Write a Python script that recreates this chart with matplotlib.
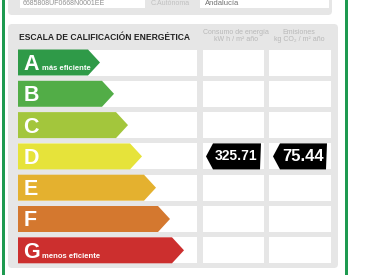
import matplotlib.pyplot as plt
from matplotlib.patches import Polygon, Rectangle, FancyBboxPatch

plt.rcParams['font.family'] = ['Liberation Sans', 'DejaVu Sans']

# datos del certificado
clases = ['A', 'B', 'C', 'D', 'E', 'F', 'G']
colores = ['#2f9a48', '#52ad47', '#a3c63c', '#e6e33a', '#e4b12f', '#d4782f', '#cc2f2e']
etiquetas = {'A': 'más eficiente', 'G': 'menos eficiente'}
consumo = 325.71
emisiones = 75.44
clase_consumo = 'D'
clase_emisiones = 'D'
ref_catastral = '6685808UF0668N0001EE'
comunidad = 'Andalucía'

fig = plt.figure(figsize=(3.66, 2.75), dpi=100)
ax = fig.add_axes([0, 0, 1, 1])
ax.set_xlim(0, 366)
ax.set_ylim(275, 0)
ax.axis('off')

gris = '#e6e6e6'

# borde verde
ax.add_patch(Rectangle((2, -5), 2.5, 290, color='#1e9a50', lw=0))
ax.add_patch(Rectangle((345, -5), 2.5, 290, color='#1e9a50', lw=0))

# panel superior
ax.add_patch(FancyBboxPatch((8, -10), 324, 25, boxstyle='round,pad=0,rounding_size=4', fc=gris, ec='none'))
ax.add_patch(Rectangle((20, -2), 125, 10, fc='white', ec='none'))
ax.add_patch(Rectangle((200, -2), 129, 10, fc='white', ec='none'))
ax.text(23, 3.5, ref_catastral, fontsize=5, color='#909090', va='center')
ax.text(151, 3.5, 'C.Autónoma', fontsize=5, color='#c0c0c0', va='center')
ax.text(205, 3.5, comunidad, fontsize=5.5, color='#707070', va='center')

# panel principal
ax.add_patch(FancyBboxPatch((8, 24), 330, 244, boxstyle='round,pad=0,rounding_size=4', fc=gris, ec='none'))
ax.text(19, 37, 'ESCALA DE CALIFICACIÓN ENERGÉTICA', fontsize=6.15, fontweight='bold',
        color='#222222', va='center')
ax.text(236, 36, 'Consumo de energía\nkW h / m² año', fontsize=5, color='#b8b8b8',
        ha='center', va='center', linespacing=1.05)
ax.text(299, 36, 'Emisiones\nkg CO₂ / m² año', fontsize=5, color='#b8b8b8',
        ha='center', va='center', linespacing=1.05)

y0, paso, h = 49.5, 31.3, 26
for i, (c, col) in enumerate(zip(clases, colores)):
    y = y0 + i * paso
    ax.add_patch(Rectangle((18, y), 179, h, fc='white', ec='none'))
    ax.add_patch(Rectangle((203, y), 61, h, fc='white', ec='none'))
    ax.add_patch(Rectangle((269, y), 62, h, fc='white', ec='none'))
    punta = 100 + i * 14
    ax.add_patch(Polygon([(18, y), (punta - 12, y), (punta, y + h / 2), (punta - 12, y + h), (18, y + h)],
                         closed=True, fc=col, ec='none'))
    ax.text(23.5, y + 20.5, c, fontsize=15.5, fontweight='bold', color='white', va='baseline')
    if c in etiquetas:
        xe = 42 if c == 'A' else 41.5
        ax.text(xe, y + 21, etiquetas[c], fontsize=5.5, fontweight='bold', color='white', va='baseline')


def indicador(x0, x1, clase, valor, fs):
    i = clases.index(clase)
    y = y0 + i * paso
    ax.add_patch(Polygon([(x0, y + h / 2), (x0 + 7, y), (x1, y), (x1 - 1, y + h), (x0 + 7, y + h)],
                         closed=True, fc='black', ec='none'))
    ax.text((x0 + 6 + x1) / 2, y + h / 2, f'{valor:.2f}', fontsize=fs, fontweight='bold',
            color='white', ha='center', va='center')


indicador(206, 261, clase_consumo, consumo, 10)
indicador(273, 327, clase_emisiones, emisiones, 12)

fig.savefig('out.png', dpi=100, facecolor='white')
